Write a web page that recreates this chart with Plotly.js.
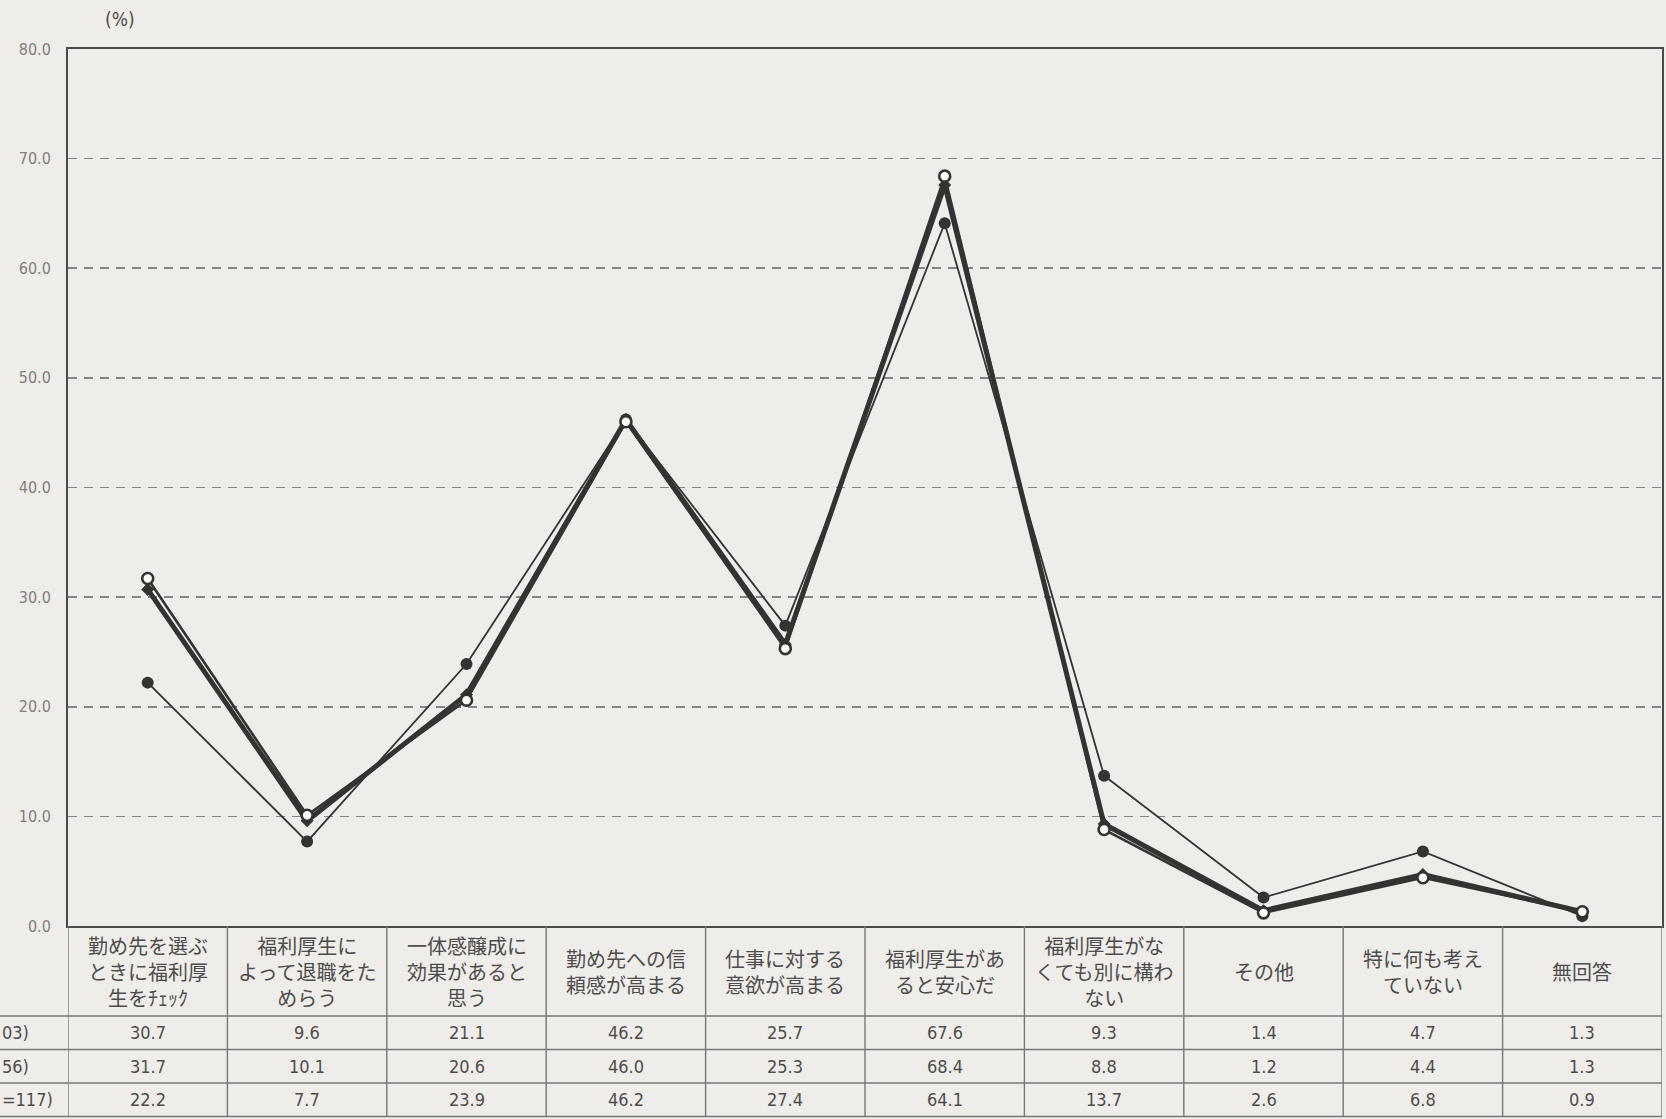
<!DOCTYPE html>
<html>
<head>
<meta charset="utf-8">
<script src="https://cdn.plot.ly/plotly-3.0.1.min.js"></script>
<style>
  html, body { margin: 0; padding: 0; background: #efede9; }
  #chart { width: 1666px; height: 1119px; }
</style>
</head>
<body>
<div id="chart"></div>
<script>
// ---- data ----
const categories = [
  '勤め先を選ぶ<br>ときに福利厚<br>生をﾁｪｯｸ',
  '福利厚生に<br>よって退職をた<br>めらう',
  '一体感醸成に<br>効果があると<br>思う',
  '勤め先への信<br>頼感が高まる',
  '仕事に対する<br>意欲が高まる',
  '福利厚生があ<br>ると安心だ',
  '福利厚生がな<br>くても別に構わ<br>ない',
  'その他',
  '特に何も考え<br>ていない',
  '無回答'
];
const seriesA = [30.7, 9.6, 21.1, 46.2, 25.7, 67.6, 9.3, 1.4, 4.7, 1.3];
const seriesB = [31.7, 10.1, 20.6, 46.0, 25.3, 68.4, 8.8, 1.2, 4.4, 1.3];
const seriesC = [22.2, 7.7, 23.9, 46.2, 27.4, 64.1, 13.7, 2.6, 6.8, 0.9];
const rowLabels = ['03)', '56)', '=117)'];
const yTicks = [0, 10, 20, 30, 40, 50, 60, 70, 80];
const yUnit = '(%)';

// ---- layout constants ----
const W = 1666, Hh = 1119;
const M = { l: 68, r: 4, t: 49, b: 193 };
const plotW = W - M.l - M.r;
const plotH = Hh - M.t - M.b;
const headerH = 90, rowH = 33.5;
const py = px => -px / plotH;     // pixels below plot bottom -> paper y
const pxX = px => px / plotW;     // pixels -> paper x
const ink = '#333333';
const textGray = '#4d4d4d';
const lineGray = '#777777';
const bg = '#efede9';
const numFont = '"Liberation Sans Narrow", "DejaVu Sans Condensed", sans-serif';

const rows = [seriesA, seriesB, seriesC];

const traces = [
  {
    x: categories, y: seriesC, name: rowLabels[2], type: 'scatter', mode: 'lines+markers',
    line: { color: ink, width: 1.8 },
    marker: { symbol: 'circle', size: 12, color: ink }
  },
  {
    x: categories, y: seriesA, name: rowLabels[0], type: 'scatter', mode: 'lines+markers',
    line: { color: ink, width: 5 },
    marker: { symbol: 'diamond', size: 10, color: ink }
  },
  {
    x: categories, y: seriesB, name: rowLabels[1], type: 'scatter', mode: 'lines+markers',
    line: { color: ink, width: 2.6 },
    marker: { symbol: 'circle', size: 11, color: '#ffffff', line: { color: ink, width: 2.6 } }
  }
];

const shapes = [];
const annotations = [];
const n = categories.length;
const tableBottom = headerH + rowH * rows.length;

// vertical column lines
for (let i = 0; i <= n; i++) {
  shapes.push({
    type: 'line', xref: 'x', yref: 'paper',
    x0: i - 0.5, x1: i - 0.5, y0: 0, y1: py(tableBottom),
    line: { color: lineGray, width: 1.4 }
  });
}
// horizontal row lines (header bottom + row bottoms), extended to left edge
for (let r = 0; r <= rows.length; r++) {
  const yy = py(headerH + rowH * r);
  shapes.push({
    type: 'line', xref: 'paper', yref: 'paper',
    x0: -pxX(M.l), x1: 1, y0: yy, y1: yy,
    line: { color: lineGray, width: 1.4 }
  });
}

// header texts
categories.forEach((c, i) => {
  annotations.push({
    x: i, xref: 'x', y: py(headerH / 2), yref: 'paper',
    text: c, showarrow: false, xanchor: 'center', yanchor: 'middle',
    font: { family: '"Noto Sans CJK JP", sans-serif', size: 20, color: textGray },
    align: 'center'
  });
});
// value cells
rows.forEach((vals, r) => {
  const yc = py(headerH + rowH * r + rowH / 2);
  vals.forEach((v, i) => {
    annotations.push({
      x: i, xref: 'x', y: yc, yref: 'paper',
      text: v.toFixed(1), showarrow: false, xanchor: 'center', yanchor: 'middle',
      font: { family: numFont, size: 18, color: textGray }
    });
  });
  annotations.push({
    x: -pxX(M.l), xref: 'paper', y: yc, yref: 'paper',
    text: rowLabels[r], showarrow: false, xanchor: 'left', yanchor: 'middle',
    font: { family: numFont, size: 18, color: textGray }
  });
});
// unit label
annotations.push({
  x: pxX(52), xref: 'paper', y: 1 + 30 / plotH, yref: 'paper',
  text: yUnit, showarrow: false, xanchor: 'center', yanchor: 'middle',
  font: { family: '"DejaVu Sans Condensed", sans-serif', size: 19, color: textGray }
});

const layout = {
  width: W, height: Hh,
  margin: M,
  paper_bgcolor: bg, plot_bgcolor: bg,
  showlegend: false,
  xaxis: {
    type: 'category', range: [-0.5, n - 0.5],
    showticklabels: false, ticks: '', showgrid: false, zeroline: false,
    showline: true, mirror: true, linecolor: '#4a4a4a', linewidth: 2
  },
  yaxis: {
    range: [0, 80], tickvals: yTicks, ticktext: yTicks.map(v => v.toFixed(1)),
    showgrid: true, gridcolor: '#858585', gridwidth: 1.7, griddash: '9px,7px',
    zeroline: false, showline: true, mirror: true, linecolor: '#4a4a4a', linewidth: 2,
    ticks: '', ticklabelstandoff: 12,
    tickfont: { family: '"DejaVu Sans Condensed", sans-serif', size: 16, color: '#808080' }
  },
  shapes: shapes,
  annotations: annotations
};

Plotly.newPlot('chart', traces, layout, { displayModeBar: false, staticPlot: true });
</script>
</body>
</html>
